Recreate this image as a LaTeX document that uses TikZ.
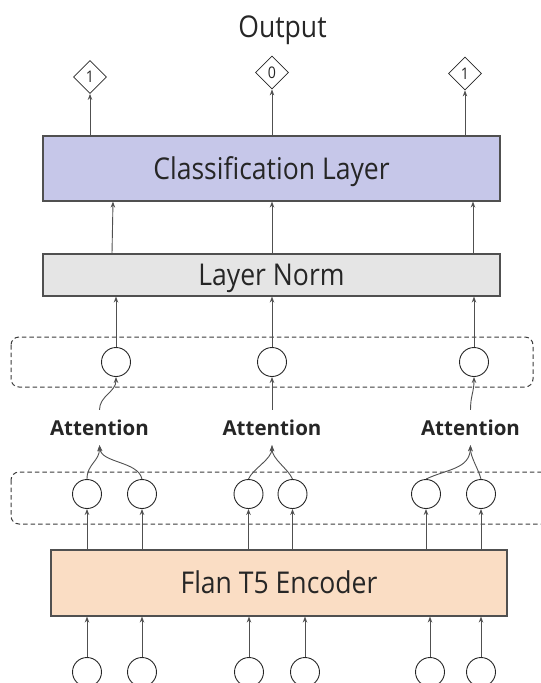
\documentclass[tikz,border=0pt]{standalone}
\usepackage{graphicx}
\usepackage{fontspec}
\setmainfont{Open Sans}
\usetikzlibrary{arrows.meta,shapes.geometric,calc}

\definecolor{ink}{HTML}{262626}
\definecolor{edge}{HTML}{505050}
\definecolor{frame}{HTML}{3C3C3C}
\definecolor{clsfill}{HTML}{C6C7E9}
\definecolor{lnfill}{HTML}{E5E5E5}
\definecolor{encfill}{HTML}{FADDC4}

% narrow setting for the light labels
\newcommand{\narrow}[1]{\scalebox{0.885}[1]{#1}}

\begin{document}
\begin{tikzpicture}[x=1pt,y=-1pt,
  bigtext/.style={font=\fontsize{30}{36}\selectfont, text=ink},
  layerbox/.style={draw=edge, line width=1.1pt, inner sep=0pt,
    text height=21.5pt, text depth=0pt, font=\fontsize{30}{36}\selectfont, text=ink},
  unit/.style={circle, draw=ink, line width=0.9pt, minimum size=29pt, inner sep=0pt},
  outbox/.style={diamond, draw=ink, line width=0.8pt, minimum width=33pt,
    minimum height=33pt, inner sep=0pt, font=\fontsize{16}{18}\selectfont, text=ink},
  arr/.style={draw=edge, line width=0.9pt, -{Stealth[length=6pt,width=4.5pt]}},
  group/.style={draw=frame, line width=1pt, dash pattern=on 4.5pt off 3pt, rounded corners=8pt},
  attn/.style={font=\bfseries\fontsize{20.5}{24}\selectfont, text=ink, text height=15pt,
    text depth=0pt, inner xsep=0pt, inner ysep=10pt, anchor=base},
]
\useasboundingbox (0,0) rectangle (541,683);
\clip (0,0) rectangle (541,683);

% grouping frames
\draw[group] (11,337) rectangle (533,387);
\draw[group] (11,472) rectangle (590,524);

% title and outputs
\node[bigtext, anchor=base] (out) at (282.5,37) {\narrow{Output}};
\node[outbox] (d1) at (90,77) {\narrow{1}};
\node[outbox] (d2) at (272,72.5) {\narrow{0}};
\node[outbox] (d3) at (465,73.5) {\narrow{1}};

% layers
\node[layerbox, fill=clsfill, minimum width=457pt, minimum height=65pt] (cls) at (271.5,168.5) {\narrow{Classification Layer}};
\node[layerbox, fill=lnfill, minimum width=457pt, minimum height=42pt] (ln) at (271.5,275) {\narrow{Layer Norm}};
\node[layerbox, fill=encfill, minimum width=456pt, minimum height=66pt] (enc) at (279,583) {\narrow{Flan T5 Encoder}};

% pooled units
\node[unit] (u1) at (116,362) {};
\node[unit] (u2) at (272,362) {};
\node[unit] (u3) at (474,362) {};

% attention labels
\node[attn] (att1) at (99.5,435) {Attention};
\node[attn] (att2) at (272,435) {Attention};
\node[attn] (att3) at (470.5,435) {Attention};

% encoder outputs
\node[unit] (l1) at (87,494) {};
\node[unit] (l2) at (142,494) {};
\node[unit] (l3) at (248.5,494) {};
\node[unit] (l4) at (292.5,494) {};
\node[unit] (l5) at (426,494) {};
\node[unit] (l6) at (481,494) {};

% input tokens
\node[unit] (b1) at (87,672) {};
\node[unit] (b2) at (142,672) {};
\node[unit] (b3) at (249,672) {};
\node[unit] (b4) at (305,672) {};
\node[unit] (b5) at (430,672) {};
\node[unit] (b6) at (481,672) {};

% classification -> outputs
\draw[arr] (d1 |- cls.north) -- (d1.south);
\draw[arr] (d2 |- cls.north) -- (d2.south);
\draw[arr] (d3 |- cls.north) -- (d3.south);

% layer norm -> classification
\draw[arr] ($(u1 |- ln.north)+(-4,0)$) -- ($(u1 |- cls.south)+(-3,0)$);
\draw[arr] (u2 |- ln.north) -- (u2 |- cls.south);
\draw[arr] ($(u3 |- ln.north)+(-1,0)$) -- ($(u3 |- cls.south)+(-1,0)$);

% pooled units -> layer norm
\draw[arr] (u1.north) -- (u1 |- ln.south);
\draw[arr] (u2.north) -- (u2 |- ln.south);
\draw[arr] (u3.north) -- (u3 |- ln.south);

% attention -> pooled units
\draw[arr] (att1.north) .. controls +(0,-14) and +(0,15) .. (u1.south);
\draw[arr] (att2.north) -- (u2.south);
\draw[arr] (att3.north) .. controls +(0,-14) and +(0,15) .. (u3.south);

% encoder outputs -> attention
\draw[arr] (l1.north) .. controls +(0,-15) and +(0,16) .. (att1.south);
\draw[arr] (l2.north) .. controls +(-4,-18) and +(2,18) .. (att1.south);
\draw[arr] (l3.north) .. controls +(4,-10) and +(0,14) .. (att2.south);
\draw[arr] (l4.north) .. controls +(-4,-10) and +(0,14) .. (att2.south);
\draw[arr] (l5.north) .. controls +(21,-10) and +(-1,24) .. (att3.south);
\draw[arr] (l6.north) .. controls +(-3,-11) and +(0,12) .. (att3.south);

% encoder -> encoder outputs
\foreach \n in {l1,l2,l3,l4,l5,l6}
  \draw[arr] (\n |- enc.north) -- (\n.south);

% input tokens -> encoder
\foreach \n in {b1,b2,b3,b4,b5,b6}
  \draw[arr] (\n.north) -- (\n |- enc.south);
\end{tikzpicture}
\end{document}
